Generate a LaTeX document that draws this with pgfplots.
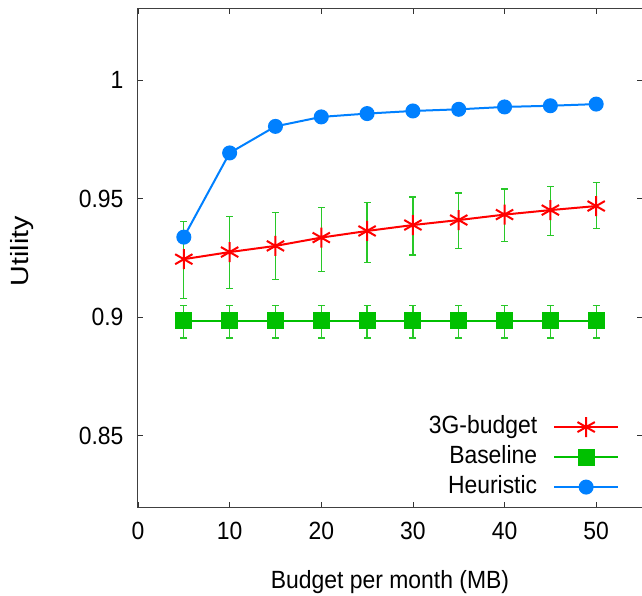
\documentclass[border=0pt]{standalone}
\usepackage{fontspec}
\setmainfont{Liberation Sans}[FakeStretch=0.92]
\newfontfamily\ylabfont{Liberation Sans}[FakeStretch=1.15]
\usepackage{pgfplots}
\pgfplotsset{compat=1.18}
\usepackage{pgfplotstable}
\definecolor{gpred}{RGB}{255,0,0}
\definecolor{gpgreen}{RGB}{0,192,0}
\definecolor{gpblue}{RGB}{0,128,255}
\definecolor{errgreen}{RGB}{40,200,40}

\pgfplotstableread{
x y ep em
5 0.9245 0.0158 0.0167
10 0.9275 0.0149 0.0153
15 0.9301 0.0142 0.0140
20 0.9336 0.0128 0.0143
25 0.9364 0.0121 0.0133
30 0.9389 0.0118 0.0126
35 0.9410 0.0114 0.0119
40 0.9433 0.0108 0.0114
45 0.9452 0.0098 0.0106
50 0.9469 0.0098 0.0095
}\budget

\pgfplotstableread{
x y ep em
5 0.8986 0.0064 0.0073
10 0.8986 0.0064 0.0073
15 0.8986 0.0064 0.0073
20 0.8986 0.0064 0.0073
25 0.8986 0.0064 0.0073
30 0.8986 0.0064 0.0073
35 0.8986 0.0064 0.0073
40 0.8986 0.0064 0.0073
45 0.8986 0.0064 0.0073
50 0.8986 0.0064 0.0073
}\baseline

\pgfplotstableread{
x y ep em
5 0.9338 0.0007 0.0007
10 0.9693 0.0007 0.0007
15 0.9805 0.0007 0.0007
20 0.9845 0.0007 0.0007
25 0.9859 0.0007 0.0007
30 0.9870 0.0007 0.0007
35 0.9877 0.0007 0.0007
40 0.9887 0.0007 0.0007
45 0.9892 0.0007 0.0007
50 0.9899 0.0007 0.0007
}\heuristic

\begin{document}
\begin{tikzpicture}
\begin{axis}[
  at={(0,0)}, anchor=south west,
  scale only axis, width=504bp, height=498bp,
  xmin=0, xmax=55, ymin=0.82, ymax=1.03,
  xtick={0,10,...,50}, ytick={0.85,0.9,0.95,1},
  tick align=inside, major tick length=5bp,
  axis line style={black!75, line width=1bp},
  every tick/.style={black!80, line width=0.8bp},
  font=\fontsize{25}{30}\selectfont,
  /pgf/number format/assume math mode=true,
  xticklabel style={yshift=-12bp},
  yticklabel style={xshift=-11bp},
  xlabel={Budget per month (MB)},
  ylabel={\ylabfont Utility},
  xlabel style={at={(axis description cs:0.5,-0.1627)}, anchor=base, inner sep=0pt},
  ylabel style={at={(axis description cs:-0.2302,0.514)}, anchor=center, inner sep=0pt},
  legend plot pos=right,
  legend cell align=right,
  legend style={draw=none, fill=none, at={(axis description cs:0.961,0.188)}, anchor=north east,
    nodes={inner sep=0pt, text height=18bp, text depth=5bp}, row sep=7bp,
    column sep=16bp,
    font=\fontsize{25}{30}\selectfont},
  legend image code/.code={\draw[mark repeat=2,mark phase=2,#1] plot coordinates {(0bp,0bp) (32bp,0bp) (64bp,0bp)};},
  error bars/error bar style={errgreen, line width=1.2bp},
  error bars/error mark options={errgreen, rotate=90, mark size=3.5bp, line width=1.2bp},
]
\addplot[gpred, line width=2bp, mark=asterisk, mark size=10bp, mark options={line width=2bp},
  error bars/.cd, y dir=both, y explicit]
  table[x=x, y=y, y error plus=ep, y error minus=em] {\budget};
\addlegendentry{3G-budget}
\addplot[gpgreen, line width=2bp, mark=square*, mark size=7.5bp,
  error bars/.cd, y dir=both, y explicit]
  table[x=x, y=y, y error plus=ep, y error minus=em] {\baseline};
\addlegendentry{Baseline}
\addplot[gpblue, line width=2bp, mark=*, mark size=6.5bp,
  error bars/.cd, y dir=both, y explicit]
  table[x=x, y=y, y error plus=ep, y error minus=em] {\heuristic};
\addlegendentry{Heuristic}
\end{axis}
\pgfresetboundingbox
\path (-138bp,-89bp) rectangle (504bp,507bp);
\end{tikzpicture}
\end{document}
